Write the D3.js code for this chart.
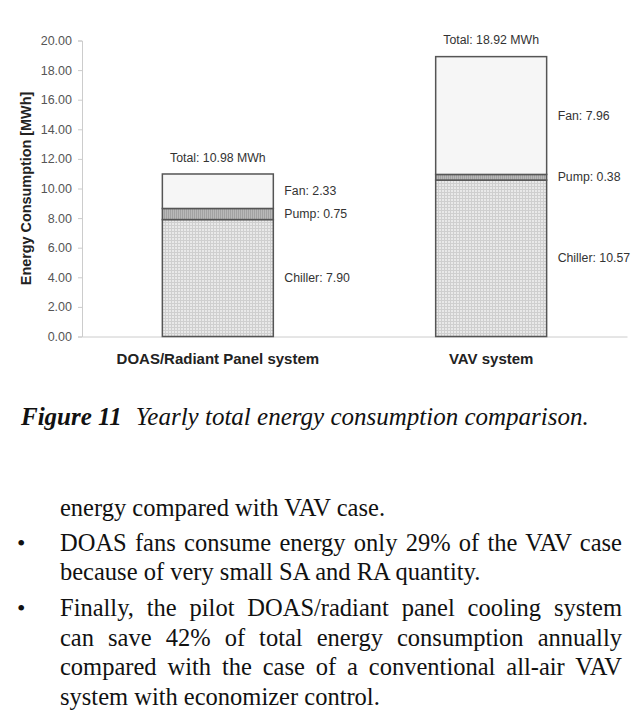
<!DOCTYPE html>
<html>
<head>
<meta charset="utf-8">
<script src="https://cdn.jsdelivr.net/npm/d3@7"></script>
<style>
  html, body { margin: 0; padding: 0; background: #fff; }
  #wrap { position: relative; width: 640px; height: 720px; overflow: hidden; }
  svg { position: absolute; left: 0; top: 0; }
  .para { position: absolute; font-family: "Liberation Serif", "Times New Roman", serif; font-size: 24.5px; color: #111; }
  .line { position: absolute; white-space: nowrap; }
  .just { text-align: justify; text-align-last: justify; white-space: normal; }
  .bullet { position: absolute; left: 17px; font-family: "Liberation Serif", serif; font-size: 24px; color: #111; }
</style>
</head>
<body>
<div id="wrap"></div>
<script>
// ---- data ----
const categories = ["DOAS/Radiant Panel system", "VAV system"];
const components = ["Chiller", "Pump", "Fan"];
const chillerValues = [7.90, 10.57];
const pumpValues = [0.75, 0.38];
const fanValues = [2.33, 7.96];
const totalValues = [10.98, 18.92];
const yTicks = [0, 2, 4, 6, 8, 10, 12, 14, 16, 18, 20];
const yTitle = "Energy Consumption [MWh]";
const captionBold = "Figure 11";
const captionText = "Yearly total energy consumption comparison.";
const bodyLines = [
  { text: "energy compared with VAV case.", justify: false, bullet: false },
  { text: "DOAS fans consume energy only 29% of the VAV case", justify: true, bullet: true },
  { text: "because of very small SA and RA quantity.", justify: false, bullet: false },
  { text: "Finally, the pilot DOAS/radiant panel cooling system", justify: true, bullet: true },
  { text: "can save 42% of total energy consumption annually", justify: true, bullet: false },
  { text: "compared with the case of a conventional all-air VAV", justify: true, bullet: false },
  { text: "system with economizer control.", justify: false, bullet: false }
];

const rows = categories.map((c, i) => ({
  category: c, Chiller: chillerValues[i], Pump: pumpValues[i], Fan: fanValues[i], total: totalValues[i]
}));

const W = 640, H = 720;
const wrap = d3.select("#wrap");
const svg = wrap.append("svg").attr("width", W).attr("height", H);

const x = d3.scaleBand().domain(categories).range([82, 627]).paddingInner(0.594).paddingOuter(0.294);
const y = d3.scaleLinear().domain([0, 20]).range([336.5, 40.5]);

// patterns
const defs = svg.append("defs");
const pc = defs.append("pattern").attr("id", "pChiller").attr("patternUnits", "userSpaceOnUse").attr("width", 3).attr("height", 3);
pc.append("rect").attr("width", 3).attr("height", 3).attr("fill", "#e9e9e9");
pc.append("path").attr("d", "M0,0.5H3M0.5,0V3").attr("stroke", "#cfcfcf").attr("stroke-width", 1);
const pp = defs.append("pattern").attr("id", "pPump").attr("patternUnits", "userSpaceOnUse").attr("width", 2).attr("height", 2);
pp.append("rect").attr("width", 2).attr("height", 2).attr("fill", "#b9b9b9");
pp.append("path").attr("d", "M0.5,0V2").attr("stroke", "#a2a2a2").attr("stroke-width", 1);
const pf = defs.append("pattern").attr("id", "pFan").attr("patternUnits", "userSpaceOnUse").attr("width", 4).attr("height", 4);
pf.append("rect").attr("width", 4).attr("height", 4).attr("fill", "#f6f6f6");
const fills = { Chiller: "url(#pChiller)", Pump: "url(#pPump)", Fan: "url(#pFan)" };

// axes
const yAxis = svg.append("g").attr("transform", "translate(82,0)")
  .call(d3.axisLeft(y).tickValues(yTicks).tickFormat(d3.format(".2f")).tickSize(4).tickPadding(6));
yAxis.select(".domain").attr("stroke", "#cccccc");
yAxis.selectAll(".tick line").attr("stroke", "#cccccc");
yAxis.selectAll(".tick text").attr("fill", "#555").attr("font-family", "Liberation Sans, Arial, sans-serif").attr("font-size", "12.5px");

const xAxis = svg.append("g").attr("transform", "translate(0,336.5)")
  .call(d3.axisBottom(x).tickSize(0).tickPadding(15));
xAxis.select(".domain").attr("stroke", "#cccccc");
xAxis.selectAll(".tick text").attr("fill", "#222").attr("font-family", "Liberation Sans, Arial, sans-serif")
  .attr("font-size", "15px").attr("font-weight", "bold").attr("dy", "0.85em");

// y title
svg.append("text").attr("transform", `translate(31,${(y(0) + y(20)) / 2}) rotate(-90)`)
  .attr("text-anchor", "middle").attr("font-family", "Liberation Sans, Arial, sans-serif")
  .attr("font-size", "14.4px").attr("font-weight", "bold").attr("fill", "#222").text(yTitle);

// stacked bars
const stack = d3.stack().keys(components)(rows);
const segG = svg.append("g");
stack.forEach(layer => {
  segG.selectAll(null).data(layer).join("rect")
    .attr("x", d => x(d.data.category))
    .attr("width", x.bandwidth())
    .attr("y", d => y(d[1]))
    .attr("height", d => y(d[0]) - y(d[1]))
    .attr("fill", fills[layer.key])
    .attr("stroke", "#555").attr("stroke-width", 1.5);
});

// segment labels
const lblFont = "Liberation Sans, Arial, sans-serif";
stack.forEach(layer => {
  svg.selectAll(null).data(layer).join("text")
    .attr("x", d => x(d.data.category) + x.bandwidth() + 11)
    .attr("y", d => (y(d[0]) + y(d[1])) / 2 + 4)
    .attr("font-family", lblFont).attr("font-size", "12.3px").attr("fill", "#333")
    .text(d => `${layer.key}: ${d.data[layer.key].toFixed(2)}`);
});

// totals
svg.selectAll(null).data(rows).join("text")
  .attr("x", d => x(d.category) + x.bandwidth() / 2)
  .attr("y", d => y(d.total) - 12)
  .attr("text-anchor", "middle")
  .attr("font-family", lblFont).attr("font-size", "12.3px").attr("fill", "#333")
  .text(d => `Total: ${d.total.toFixed(2)} MWh`);

// caption
const cap = svg.append("text").attr("x", 21).attr("y", 425)
  .attr("font-family", "Liberation Serif, Times New Roman, serif").attr("font-size", "25px").attr("fill", "#111");
cap.append("tspan").attr("font-weight", "bold").attr("font-style", "italic").text(captionBold);
cap.append("tspan").attr("font-style", "italic").attr("dx", 14).text(captionText);

// body text
const baselines = [516, 551, 580, 616, 646, 675, 705];
bodyLines.forEach((l, i) => {
  wrap.append("div").attr("class", "para line" + (l.justify ? " just" : ""))
    .style("left", "60px").style("width", "562px")
    .style("top", (baselines[i] - 22) + "px")
    .style("line-height", "28px")
    .text(l.text);
  if (l.bullet) {
    wrap.append("div").attr("class", "bullet").style("top", (baselines[i] - 22) + "px").style("line-height", "28px").text("•");
  }
});
</script>
</body>
</html>
